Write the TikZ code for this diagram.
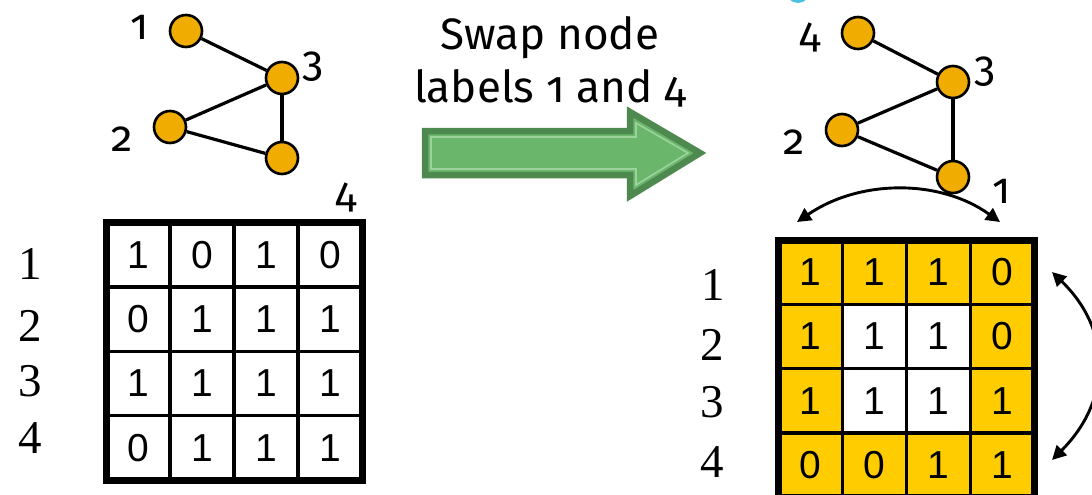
\documentclass[tikz,border=0pt]{standalone}
\usepackage{fontspec}
\setmainfont{Liberation Serif}
\newfontfamily\labfont[Numbers=OldStyle]{Fira Sans}
\newfontfamily\cellfont{Liberation Sans}
\usetikzlibrary{arrows.meta}
\definecolor{nodeorange}{HTML}{F0AC00}
\definecolor{cellyellow}{HTML}{FFCC00}
\definecolor{darkgreen}{HTML}{4E8A4F}
\definecolor{lightgreen}{HTML}{6AB76C}
\definecolor{innergreen}{HTML}{9CD39D}
\definecolor{cyanish}{HTML}{4FC1E0}
\tikzset{
  vert/.style={circle, draw, line width=2.6pt, fill=nodeorange, minimum size=32pt, inner sep=0pt},
  glabel/.style={inner sep=0pt, font=\labfont\fontsize{43}{48}\selectfont},
  rowlab/.style={inner sep=0pt, font=\fontsize{47}{50}\selectfont},
  cellbox/.style={inner sep=0pt, minimum width=64pt, minimum height=64.4pt, font=\cellfont\fontsize{39}{40}\selectfont},
  edge/.style={line width=3.2pt},
  swaparrow/.style={line width=2.9pt, {Triangle[length=14pt,width=14pt]}-{Triangle[length=14pt,width=14pt]}}
}
\begin{document}
\begin{tikzpicture}[x=1pt,y=-1pt]
\useasboundingbox (0,0) rectangle (1092,495);
\fill[white] (0,0) rectangle (1092,495);
% cyan fragment at top
\fill[cyanish] (798,-9) circle (12pt);

% ---------- left graph ----------
\node[vert] (a1) at (186,31) {};
\node[vert] (a3) at (282,78) {};
\node[vert] (a2) at (170,127) {};
\node[vert] (a4) at (282,158) {};
\draw[edge] (a1) -- (a3);
\draw[edge] (a3) -- (a2);
\draw[edge] (a2) -- (a4);
\draw[edge] (a3) -- (a4);
\node[glabel] (la1) at (140,27) {1};
\node[glabel] (la3) at (313,67) {3};
\node[glabel] (la2) at (122,139) {2};
\node[glabel] (lacol4) at (346,197) {4};

% ---------- left matrix ----------
\foreach \r/\row in {1/{1,0,1,0},2/{0,1,1,1},3/{1,1,1,1},4/{0,1,1,1}}{
  \foreach \v [count=\c] in \row {
    \node[cellbox] (L-\r-\c) at ({106+64*(\c-0.5)},{222.5+64.4*(\r-0.5)}) {\v};
  }
}
\foreach \i in {1,2,3}{
  \draw[line width=3.2pt] ({106+64*\i},222.5) -- ({106+64*\i},480);
  \draw[line width=3.2pt] (106,{222.5+64.4*\i}) -- (362,{222.5+64.4*\i});
}
\draw[line width=7pt] (106,222.5) rectangle (362,480);
\node[rowlab] (lr1) at (30,264) {1};
\node[rowlab] (lr2) at (30,326) {2};
\node[rowlab] (lr3) at (30,381) {3};
\node[rowlab] (lr4) at (30,438) {4};

% ---------- green arrow ----------
\draw[darkgreen, fill=lightgreen, line width=6.5pt, line join=miter]
  (425,131) -- (630,131) -- (630,112) -- (700,153) -- (630,196) -- (630,175) -- (425,175) -- cycle;
\draw[innergreen, line width=1.6pt]
  (431,137) -- (636,137) -- (636,123) -- (688,153) -- (636,185) -- (636,169) -- (431,169) -- cycle;
\node[inner sep=0pt, align=center, font=\labfont\fontsize{44}{53}\selectfont] (title) at (550,62) {Swap node\\labels 1 and 4};

% ---------- right graph ----------
\node[vert] (b4) at (858,33) {};
\node[vert] (b3) at (953,82) {};
\node[vert] (b2) at (842,130) {};
\node[vert] (b1) at (953,177) {};
\draw[edge] (b4) -- (b3);
\draw[edge] (b3) -- (b2);
\draw[edge] (b2) -- (b1);
\draw[edge] (b3) -- (b1);
\node[glabel] (lb4) at (810,37) {4};
\node[glabel] (lb3) at (985,72) {3};
\node[glabel] (lb2) at (794,142) {2};
\node[glabel] (lb1) at (1002,191) {1};

% ---------- right matrix ----------
\foreach \r/\row in {1/{1,1,1,0},2/{1,1,1,0},3/{1,1,1,1},4/{0,0,1,1}}{
  \foreach \v [count=\c] in \row {
    \pgfmathtruncatemacro{\inner}{(\r>1)&&(\r<4)&&(\c>1)&&(\c<4) ? 1 : 0}
    \ifnum\inner=1
      \node[cellbox, fill=white] (R-\r-\c) at ({778.5+64*(\c-0.5)},{240+64.3*(\r-0.5)}) {\v};
    \else
      \node[cellbox, fill=cellyellow] (R-\r-\c) at ({778.5+64*(\c-0.5)},{240+64.3*(\r-0.5)}) {\v};
    \fi
  }
}
\foreach \i in {1,2,3}{
  \draw[line width=3.2pt] ({778.5+64*\i},240) -- ({778.5+64*\i},497.2);
  \draw[line width=3.2pt] (778.5,{240+64.3*\i}) -- (1034.5,{240+64.3*\i});
}
\draw[line width=7pt] (778.5,240) rectangle (1034.5,497.2);
\node[rowlab] (rr1) at (713,285) {1};
\node[rowlab] (rr2) at (712,345) {2};
\node[rowlab] (rr3) at (712,402) {3};
\node[rowlab] (rr4) at (712,462) {4};

% ---------- swap arrows ----------
\coordinate (ct1) at (797,222);
\coordinate (ct4) at (1000,222);
\draw[swaparrow] (ct1) .. controls (860,179) and (940,179) .. (ct4);
\coordinate (cr1) at (1052,272);
\coordinate (cr4) at (1052,460);
\draw[swaparrow] (cr1) .. controls (1112,330) and (1112,400) .. (cr4);
\end{tikzpicture}
\end{document}
